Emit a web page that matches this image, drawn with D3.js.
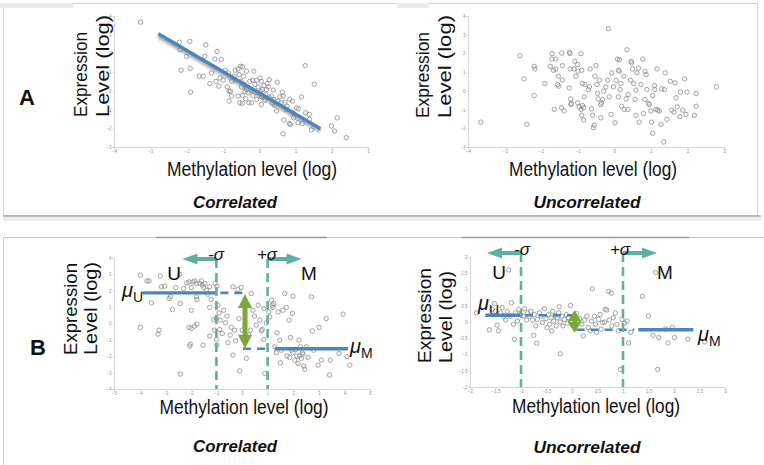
<!DOCTYPE html>
<html>
<head>
<meta charset="utf-8">
<script src="https://cdn.jsdelivr.net/npm/d3@7"></script>
<style>
  body { margin: 0; background: #fff; }
  svg { display: block; }
</style>
</head>
<body>
<div class="board"></div>
<script>
// ---- values ----

// A, correlated
var corrX = [-3.27,-2.2,-1.91,-2.18,-2.0,-1.47,-1.16,-1.5,-1.22,-1.04,
  -2.15,-1.9,-1.89,-1.65,-1.54,-1.36,-1.31,-1.19,-1.11,-1.08,
  -0.99,-0.85,-0.88,-0.83,-0.79,-0.83,-0.76,-0.7,-0.66,-0.58,
  -0.51,-0.46,-0.55,-0.44,-0.35,-0.5,-0.41,-0.35,-0.58,-0.46,
  -0.53,-0.46,-0.28,-0.26,-0.18,-0.15,-0.21,-0.17,-0.07,-0.03,
  0.02,0.06,0.13,0.04,0.06,0.16,0.2,0.28,0.22,0.39,
  0.34,0.37,0.43,0.48,0.5,0.57,0.64,0.66,0.61,0.71,
  0.77,0.84,0.92,0.68,0.86,0.83,0.66,1.03,1.08,0.95,
  1.17,1.27,1.52,1.07,1.19,1.28,1.38,1.39,1.44,1.99,
  2.08,2.15,2.4,
  -0.3,-0.12,0.09,0.18,0.29,0.4,0.52,-0.49,-0.39,-0.64,
  -0.07,0.06,-0.03,0.75,0.94,0.25,0.11,-0.94,-0.76,-0.37,-0.21];
var corrY = [3.67,2.6,2.64,2.2,1.84,2.46,2.1,1.84,1.7,1.67,
  1.1,1.2,-0.07,0.78,0.78,0.39,0.96,0.51,0.25,0.69,
  0.57,0.96,0.21,-0.02,-0.02,-0.55,0.51,0.78,1.1,1.17,
  1.31,1.28,0.87,0.78,1.05,0.51,0.34,0.07,-0.28,-0.25,
  -0.64,-0.67,-0.64,0.51,0.57,1.05,0.04,-0.25,-0.46,0.21,
  0.69,0.51,0.28,-0.02,-0.32,-0.5,0.07,0.6,0.39,0.04,
  -0.28,-0.67,-0.78,-1.08,0.46,-0.32,-0.07,-0.28,-0.64,-0.6,
  -0.82,-0.46,-0.55,-1.56,-1.79,-1.74,-2.29,-0.9,-0.96,-1.44,
  -0.32,1.35,0.35,-1.7,-1.74,-1.17,-1.26,-1.52,-2.09,-1.88,
  -2.15,-1.44,-2.5,
  -0.1,0.34,0.07,-0.2,-0.37,-0.46,-0.55,0.21,-0.02,0.57,
  0.57,-0.73,-0.1,-1.0,-1.17,0.21,-0.32,1.1,-0.28,-0.43,-0.64];
var fitX = [-2.78, 1.69];
var fitY = [3.05, -2.02];

// A, uncorrelated
var uncorrX = [-3.65,-2.58,-2.47,-2.39,-2.19,-2.17,-2.19,-1.9,-1.75,-1.71,
  -1.7,-1.66,-1.6,-1.6,-1.64,-1.55,-1.53,-1.52,-1.44,-1.42,
  -1.42,-1.44,-1.37,-1.23,-1.21,-1.21,-1.19,-1.23,-1.19,-1.17,
  -1.1,-1.08,-1.05,-1.0,-0.99,-0.91,-0.89,-1.0,-0.96,-0.91,
  -0.87,-0.84,-0.89,-0.84,-0.87,-0.8,-0.82,-0.68,-0.71,-0.66,
  -0.62,-0.59,-0.55,-0.57,-0.53,-0.5,-0.47,-0.46,-0.44,-0.41,
  -0.37,-0.37,-0.32,-0.35,-0.29,-0.23,-0.16,-0.18,-0.14,-0.09,
  -0.07,-0.02,0.05,0.02,0.09,0.14,0.11,0.14,0.11,0.16,
  0.18,0.2,0.26,0.27,0.32,0.35,0.37,0.38,0.44,0.46,
  0.47,0.5,0.53,0.57,0.59,0.59,0.62,0.66,0.68,0.73,
  0.78,0.8,0.84,0.87,0.84,0.89,0.93,0.96,1.0,1.02,
  1.05,1.05,1.1,1.11,1.14,1.17,1.19,1.23,1.28,1.3,
  1.35,1.37,1.39,1.44,1.53,1.57,1.63,1.66,1.69,1.72,
  1.79,1.81,1.87,1.92,1.96,1.99,2.19,2.24,2.24,2.79];
var uncorrY = [-1.67,1.88,0.64,-1.79,1.31,1.17,-0.25,0.39,1.31,1.7,
  1.99,1.1,1.17,1.7,-0.99,0.34,0.78,0.25,2.02,0.57,
  1.35,-0.9,-1.08,2.06,1.99,1.17,-0.43,0.16,-0.73,-0.67,
  1.17,1.58,0.78,1.4,1.05,1.99,1.1,-0.64,-0.85,-0.99,
  -0.78,-0.9,-1.31,-1.56,0.39,0.34,-0.32,0.21,0.07,1.17,
  -0.96,-1.31,-1.84,-1.97,0.78,1.35,0.34,-0.14,-0.43,0.57,
  -0.73,-1.44,-0.46,-0.64,-0.02,0.21,3.33,0.57,-0.32,-1.26,
  0.96,0.21,0.57,-1.7,1.7,1.67,1.1,1.05,-0.32,0.07,
  0.39,-0.82,0.78,-0.99,-0.43,2.2,-0.99,-0.2,0.57,1.58,
  1.49,1.17,0.39,-0.46,0.04,-1.31,0.96,1.22,-1.67,0.34,
  1.7,-1.21,1.05,0.87,-0.46,0.07,-0.67,-0.73,-1.08,-1.67,
  -2.27,-0.25,0.28,0.07,-0.99,1.17,-1.03,-1.08,-1.79,0.11,
  -2.73,0.07,0.96,-1.52,0.51,-1.03,-1.13,0.43,-0.37,-0.85,
  -1.38,-0.07,-1.03,0.64,-1.26,-0.07,-1.31,-0.82,-0.14,0.21];

// B, correlated
var bCorrX = [-3.97,-3.71,-3.63,-3.97,-3.54,-3.19,-3.24,-3.28,-3.15,-3.02,
  -2.85,-2.8,-2.72,-2.59,-2.41,-2.43,-2.41,-2.28,-2.15,-2.07,
  -2.04,-2.02,-1.98,-1.98,-1.91,-1.85,-1.78,-1.78,-1.76,-2.07,
  -1.98,-1.85,-1.76,-1.65,-1.59,-1.55,-1.5,-1.45,-1.39,-1.52,
  -1.33,-1.26,-1.26,-1.2,-1.26,-1.11,-1.07,-1.05,-1.0,-0.98,
  -0.94,-1.0,-0.98,-0.9,-0.87,-0.85,-0.77,-0.72,-0.64,-0.59,
  -0.55,-0.46,-0.42,-0.35,-0.35,-0.29,-0.25,-0.16,-0.12,-0.09,
  -0.03,0.01,0.17,0.27,0.33,0.36,0.43,0.49,0.56,0.63,
  0.69,0.76,0.79,0.85,0.85,0.89,0.95,1.05,1.08,1.15,
  1.18,1.21,1.24,1.28,1.34,1.37,1.41,1.47,1.5,1.54,
  1.6,1.67,1.73,1.76,1.84,1.86,1.89,1.93,1.97,1.99,
  1.99,2.06,2.1,2.15,2.19,2.23,2.25,2.28,2.32,2.36,
  2.38,2.41,2.45,2.51,2.58,2.71,2.75,2.8,2.97,3.01,
  3.1,3.29,3.42,3.45,3.79,3.95,4.1,4.21];
var bCorrY = [2.95,2.6,2.6,-0.24,1.26,2.89,-0.41,-0.65,2.24,2.28,
  1.52,1.63,0.85,2.2,1.22,3.0,-3.09,2.13,2.48,2.54,
  -1.38,-1.26,2.2,0.81,2.54,2.6,2.44,1.63,1.46,-0.24,
  -0.3,-0.16,-0.04,2.44,2.6,2.34,2.2,2.44,2.03,-1.32,
  1.79,2.24,0.98,1.46,-0.77,0.24,-0.41,2.44,0.3,2.28,
  1.12,-0.98,-1.32,0.65,-0.37,0.2,-0.61,0.81,0.04,0.45,
  -1.18,-0.71,-0.24,2.24,-1.93,-0.41,-1.06,2.07,0.3,-2.89,
  2.2,-0.41,-2.13,-0.71,-0.41,1.83,0.81,0.45,-0.1,1.12,
  0.2,-0.45,-0.37,-0.98,0.91,-3.05,0.04,0.71,0.41,1.42,
  1.12,0.98,1.22,-1.42,-1.79,-0.57,0.71,-1.02,-2.4,-1.63,
  0.81,1.83,0.98,-1.99,0.2,-2.07,-0.85,-1.63,0.61,1.67,
  -1.79,-2.24,-1.59,-1.99,-2.44,-1.02,-1.99,-1.42,-2.13,-1.79,
  -1.87,-2.6,-2.8,-1.42,-2.07,1.63,-0.45,-1.63,-2.54,-0.24,
  -2.24,0.3,-3.15,-2.24,-1.83,0.57,-2.03,-2.54];
var bCorrSigma = [-1, 1];
var bCorrMu = [1.87, -1.54];          // mu_U, mu_M
var bCorrSpanU = [-3.93, -1.0, 0.04]; // solid from, solid to, dashed to
var bCorrSpanM = [0.04, 1.28, 4.14];  // dashed from, solid from, solid to

// B, uncorrelated
var bUncorrX = [-1.87,-1.62,-1.57,-1.52,-1.5,-1.47,-1.44,-1.4,-1.37,-1.34,
  -1.3,-1.27,-1.24,-1.21,-1.19,-1.15,-1.13,-1.11,-1.07,-1.04,
  -1.01,-0.95,-0.93,-0.89,-0.87,-0.84,-0.81,-0.77,-0.75,-0.74,
  -0.71,-0.69,-0.68,-0.64,-0.61,-0.58,-0.54,-0.51,-0.49,-0.46,
  -0.44,-0.41,-0.4,-0.38,-0.36,-0.33,-0.31,-0.29,-0.26,-0.25,
  -0.23,-0.23,-0.2,-0.18,-0.15,-0.11,-0.09,-0.07,-0.03,-0.01,
  0.02,0.09,0.12,0.15,0.19,0.22,0.25,0.29,0.32,0.36,
  0.38,0.4,0.44,0.46,0.48,0.52,0.55,0.57,0.6,0.64,
  0.65,0.68,0.72,0.73,0.77,0.78,0.81,0.85,0.88,0.91,
  0.95,0.98,1.03,1.08,1.11,1.15,1.38,1.5,1.59,1.64,
  1.68,1.7,1.83,1.88,1.97,2.01,2.27,2.6];
var bUncorrY = [0.28,-0.24,0.39,0.57,0.33,-0.1,-0.27,0.28,0.44,0.18,
  0.06,0.33,1.6,0.18,0.59,-0.07,-0.53,0.28,0.03,0.39,
  0.23,0.18,0.41,0.06,0.28,0.18,0.33,0.06,-0.41,0.23,
  -0.12,-0.65,0.08,0.28,0.18,-0.02,0.41,0.1,-0.17,0.23,
  -0.07,0.13,-0.27,0.33,0.03,0.2,-0.12,0.13,0.28,0.47,
  0,-0.98,0.18,-0.12,0.08,0.23,-0.04,0.13,0.51,0.03,
  -0.1,0.26,0,0.1,-0.07,-0.43,0.06,0.18,-0.17,-0.27,
  0.03,1.02,0.18,-0.07,-0.32,0.08,0.23,-0.22,-0.02,0,
  0.39,0.37,0.94,0.06,0.89,-0.12,0.13,0.28,-0.07,-0.27,
  -1.46,0.08,-0.04,0.03,-0.65,-0.32,0.79,0.18,-0.41,1.52,
  -1.46,-0.48,-0.22,-0.65,-0.17,-0.48,-0.53,-0.61];
var bUncorrSigma = [-1, 1];
var bUncorrMu = [0.21, -0.24];
var bUncorrSpanU = [-1.7, -1.0, 0.09];
var bUncorrSpanM = [0.09, 1.3, 2.38];

// tick labels
var aTicksX = [-4, -3, -2, -1, 0, 1, 2, 3];
var aTicksY = [-3, -2, -1, 0, 1, 2, 3, 4];
var bCorrTicksX = [-5, -4, -3, -2, -1, 0, 1, 2, 3, 4, 5];
var bCorrTicksY = [-4, -3, -2, -1, 0, 1, 2, 3, 4];
var bUncorrTicksX = [-2, -1.5, -1, -0.5, 0, 0.5, 1, 1.5, 2, 2.5, 3];
var bUncorrTicksY = [-2, -1.5, -1, -0.5, 0, 0.5, 1, 1.5, 2];

// ---- drawing ----
var FONT = '"Liberation Sans", Arial, sans-serif';
var BLUE = '#4a85bd', TEAL = '#5cb0a4', GREEN = '#7da63b', DOT = '#8a8a8a';

var svg = d3.select('.board').append('svg')
  .attr('width', 764)
  .attr('height', 465)
  .style('font-family', FONT);

svg.append('defs').append('filter').attr('id', 'blur')
  .attr('x', '-10%').attr('y', '-50%').attr('width', '120%').attr('height', '200%')
  .append('feGaussianBlur').attr('stdDeviation', 1.3);

// frames of the two rows
svg.append('rect').attr('x', 3.5).attr('y', 3.5).attr('width', 754).attr('height', 212)
  .attr('fill', 'none').attr('stroke', '#d4d4d4');
svg.append('rect').attr('x', 3).attr('y', 217).attr('width', 758).attr('height', 4).attr('fill', '#ececec');
svg.append('line').attr('x1', 3).attr('x2', 761).attr('y1', 216).attr('y2', 216).attr('stroke', '#a9a9a9').attr('stroke-width', 1.3);
svg.append('rect').attr('x', 0).attr('y', 3).attr('width', 73).attr('height', 5).attr('fill', '#ececec');
svg.append('rect').attr('x', 397).attr('y', 3).attr('width', 32).attr('height', 5).attr('fill', '#ececec');
svg.append('line').attr('x1', 3).attr('x2', 764).attr('y1', 237.5).attr('y2', 237.5).attr('stroke', '#c8c8c8').attr('stroke-width', 1.2);
svg.append('line').attr('x1', 3.5).attr('x2', 3.5).attr('y1', 237.5).attr('y2', 465).attr('stroke', '#cfcfcf');
[[156, 327], [462, 689]].forEach(function(s) {
  svg.append('line').attr('x1', s[0]).attr('x2', s[1]).attr('y1', 237.5).attr('y2', 237.5)
    .attr('stroke', '#999').attr('stroke-width', 1.4);
});

function makePanel(c) {
  var x = d3.scaleLinear().domain(c.xd).range(c.xr);
  var y = d3.scaleLinear().domain(c.yd).range(c.yr);
  var g = svg.append('g');
  var fmt = d3.format('');

  var ax = g.append('g').attr('transform', 'translate(0,' + c.yr[0] + ')')
    .call(d3.axisBottom(x).tickValues(c.xt).tickSize(1.5).tickPadding(1).tickFormat(fmt));
  var ay = g.append('g').attr('transform', 'translate(' + c.xr[0] + ',0)')
    .call(d3.axisLeft(y).tickValues(c.yt).tickSize(1.5).tickPadding(1).tickFormat(fmt));
  [ax, ay].forEach(function(a) {
    a.select('.domain').attr('stroke', '#c4c4c4').attr('stroke-width', 0.7);
    a.selectAll('.tick line').attr('stroke', '#c4c4c4').attr('stroke-width', 0.6);
    a.selectAll('.tick text').attr('fill', '#8f8f8f').style('font-size', '4.5px').style('font-family', FONT);
  });

  // axis titles
  var yl = c.yLab;
  g.append('text').text('Expression')
    .attr('transform', 'translate(' + yl.xE + ',' + yl.bottom + ') rotate(-90)')
    .attr('textLength', yl.lenE).attr('lengthAdjust', 'spacingAndGlyphs')
    .style('font-size', '18px').attr('fill', '#111');
  g.append('text').text('Level (log)')
    .attr('transform', 'translate(' + yl.xL + ',' + yl.bottom + ') rotate(-90)')
    .attr('textLength', yl.lenL).attr('lengthAdjust', 'spacingAndGlyphs')
    .style('font-size', '18px').attr('fill', '#111');
  g.append('text').text('Methylation level (log)')
    .attr('x', c.xLab[0] - c.xLab[2] / 2).attr('y', c.xLab[1])
    .attr('textLength', c.xLab[2]).attr('lengthAdjust', 'spacingAndGlyphs')
    .style('font-size', '20px').attr('fill', '#111');
  g.append('text').text(c.caption)
    .attr('x', c.capPos[0] - c.capPos[2] / 2).attr('y', c.capPos[1])
    .attr('textLength', c.capPos[2]).attr('lengthAdjust', 'spacingAndGlyphs')
    .style('font-size', '16px').style('font-weight', 'bold').style('font-style', 'italic').attr('fill', '#111');

  return { x: x, y: y, g: g };
}

function scatter(p, xs, ys) {
  p.g.append('g').selectAll('circle')
    .data(d3.range(xs.length))
    .enter()
    .append('circle')
    .attr('cx', function(i) { return p.x(xs[i]); })
    .attr('cy', function(i) { return p.y(ys[i]); })
    .attr('r', 2.2)
    .attr('fill', 'none')
    .attr('stroke', DOT)
    .attr('stroke-width', 0.8);
}

// blue line with the soft grey shadow under it
function shadowLine(g, x1, y1, x2, y2, dashed) {
  var w = dashed ? 2.6 : 3.4;
  if (!dashed) {
    g.append('line').attr('x1', x1).attr('y1', y1 + 2.5).attr('x2', x2).attr('y2', y2 + 2.5)
      .attr('stroke', '#777').attr('stroke-opacity', 0.55).attr('stroke-width', w + 1)
      .attr('filter', 'url(#blur)');
  }
  g.append('line').attr('x1', x1).attr('y1', y1).attr('x2', x2).attr('y2', y2)
    .attr('stroke', BLUE).attr('stroke-width', w)
    .attr('stroke-dasharray', dashed ? '8,6' : null);
}

function sigmaMarker(p, xv, dir, yTop, label, labelX, labelY) {
  var g = p.g, x0 = p.x(xv), len = 34, head = 15;
  g.append('line').attr('x1', x0).attr('x2', x0).attr('y1', yTop).attr('y2', p.y.range()[0])
    .attr('stroke', TEAL).attr('stroke-width', 2.6).attr('stroke-dasharray', '9,5');
  g.append('line').attr('x1', x0).attr('x2', x0 + dir * (len - head + 1)).attr('y1', yTop).attr('y2', yTop)
    .attr('stroke', TEAL).attr('stroke-width', 4);
  var tip = x0 + dir * len, base = x0 + dir * (len - head);
  g.append('path')
    .attr('d', 'M' + tip + ',' + yTop + 'L' + base + ',' + (yTop - 5.5) + 'L' + base + ',' + (yTop + 5.5) + 'Z')
    .attr('fill', TEAL);
  g.append('text').text(label).attr('x', labelX).attr('y', labelY).attr('text-anchor', 'middle')
    .style('font-size', '17px').style('font-style', 'italic').attr('fill', '#111');
}

function greenArrow(g, x0, yA, yB, hw, hh, w) {
  g.append('line').attr('x1', x0).attr('x2', x0).attr('y1', yA + hh - 1).attr('y2', yB - hh + 1)
    .attr('stroke', GREEN).attr('stroke-width', w);
  g.append('path').attr('d', 'M' + x0 + ',' + yA + 'L' + (x0 - hw) + ',' + (yA + hh) + 'L' + (x0 + hw) + ',' + (yA + hh) + 'Z')
    .attr('fill', GREEN);
  g.append('path').attr('d', 'M' + x0 + ',' + yB + 'L' + (x0 - hw) + ',' + (yB - hh) + 'L' + (x0 + hw) + ',' + (yB - hh) + 'Z')
    .attr('fill', GREEN);
}

function muLabel(g, x, y, sub) {
  var t = g.append('text').attr('x', x).attr('y', y).attr('fill', '#111');
  t.append('tspan').text('\u03bc').style('font-size', '20px').style('font-style', 'italic');
  t.append('tspan').text(sub).attr('dy', 5).style('font-size', '14px');
}

function plainLabel(g, text, x, y, size, extra) {
  var t = g.append('text').text(text).attr('x', x).attr('y', y).attr('text-anchor', 'middle')
    .style('font-size', size + 'px').attr('fill', '#111');
  if (extra) t.style('font-weight', 'bold');
  return t;
}

function meansOverlay(p, mu, spanU, spanM) {
  var yu = p.y(mu[0]), ym = p.y(mu[1]);
  shadowLine(p.g, p.x(spanU[0]), yu, p.x(spanU[1]), yu, false);
  shadowLine(p.g, p.x(spanU[1]) + 4, yu, p.x(spanU[2]), yu, true);
  shadowLine(p.g, p.x(spanM[0]), ym, p.x(spanM[1]) - 4, ym, true);
  shadowLine(p.g, p.x(spanM[1]), ym, p.x(spanM[2]), ym, false);
}

// ---- A, correlated ----
var pA1 = makePanel({
  xd: [-4, 3], yd: [-3, 4], xr: [114, 368], yr: [147, 16], xt: aTicksX, yt: aTicksY,
  yLab: { xE: 87, xL: 109, bottom: 117, lenE: 85, lenL: 102 },
  xLab: [252, 176, 170], caption: 'Correlated', capPos: [235, 208, 84]
});
scatter(pA1, corrX, corrY);
shadowLine(pA1.g, pA1.x(fitX[0]), pA1.y(fitY[0]), pA1.x(fitX[1]), pA1.y(fitY[1]), false);
plainLabel(svg, 'A', 27, 105, 22, true);

// ---- A, uncorrelated ----
var pA2 = makePanel({
  xd: [-4, 3], yd: [-3, 4], xr: [468, 724], yr: [147, 16], xt: aTicksX, yt: aTicksY,
  yLab: { xE: 429, xL: 451, bottom: 118, lenE: 86, lenL: 103 },
  xLab: [593, 176, 168], caption: 'Uncorrelated', capPos: [587, 208, 107]
});
scatter(pA2, uncorrX, uncorrY);

// ---- B, correlated ----
var pB1 = makePanel({
  xd: [-5, 5], yd: [-4, 4], xr: [114, 370], yr: [389, 258], xt: bCorrTicksX, yt: bCorrTicksY,
  yLab: { xE: 77, xL: 97, bottom: 355, lenE: 92, lenL: 93 },
  xLab: [244, 414, 169], caption: 'Correlated', capPos: [235, 452, 84]
});
scatter(pB1, bCorrX, bCorrY);
muLabel(pB1.g, 122, 297, 'U');
muLabel(pB1.g, 350, 353, 'M');
meansOverlay(pB1, bCorrMu, bCorrSpanU, bCorrSpanM);
sigmaMarker(pB1, bCorrSigma[0], -1, 259, '-\u03c3', 216, 260);
sigmaMarker(pB1, bCorrSigma[1], 1, 259, '+\u03c3', 267, 260);
greenArrow(pB1.g, pB1.x(bCorrSpanU[2]) + 2, pB1.y(bCorrMu[0]) + 1, pB1.y(bCorrMu[1]), 7, 14, 5);
plainLabel(pB1.g, 'U', 174, 280, 19);
plainLabel(pB1.g, 'M', 309, 280, 19);
plainLabel(svg, 'B', 38, 355, 22, true);

// ---- B, uncorrelated ----
var pB2 = makePanel({
  xd: [-2, 3], yd: [-2, 2], xr: [470, 725], yr: [387, 257], xt: bUncorrTicksX, yt: bUncorrTicksY,
  yLab: { xE: 431, xL: 452, bottom: 363, lenE: 95, lenL: 92 },
  xLab: [596, 413, 168], caption: 'Uncorrelated', capPos: [587, 453, 107]
});
scatter(pB2, bUncorrX, bUncorrY);
muLabel(pB2.g, 478, 310, 'U');
muLabel(pB2.g, 698, 341, 'M');
meansOverlay(pB2, bUncorrMu, bUncorrSpanU, bUncorrSpanM);
sigmaMarker(pB2, bUncorrSigma[0], -1, 253, '-\u03c3', 522, 255);
sigmaMarker(pB2, bUncorrSigma[1], 1, 253, '+\u03c3', 620, 255);
greenArrow(pB2.g, pB2.x(0.05), pB2.y(bUncorrMu[0]) - 5, pB2.y(bUncorrMu[1]) + 3, 7, 11, 4);
plainLabel(pB2.g, 'U', 499, 279, 19);
plainLabel(pB2.g, 'M', 665, 279, 19);
</script>
</body>
</html>
